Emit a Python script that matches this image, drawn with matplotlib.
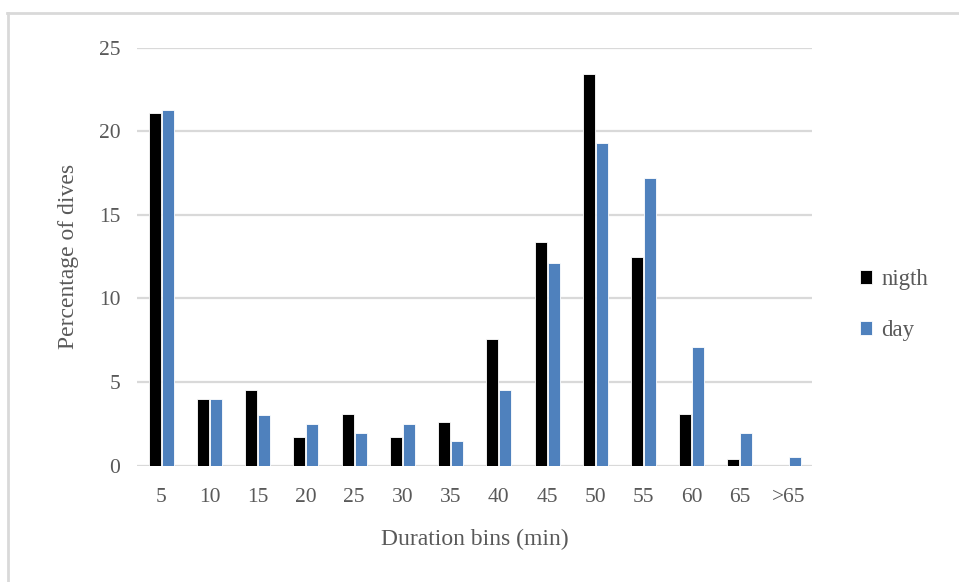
import matplotlib
matplotlib.use("Agg")
import matplotlib.pyplot as plt
from matplotlib.lines import Line2D
import numpy as np

plt.rcParams['font.family'] = ['Liberation Serif', 'DejaVu Serif']

# 데이터
bins = ['5', '10', '15', '20', '25', '30', '35', '40', '45', '50', '55', '60', '65', '>65']
night = [21.1, 4.0, 4.5, 1.7, 3.1, 1.7, 2.6, 7.6, 13.4, 23.4, 12.5, 3.1, 0.4, 0.0]
day = [21.3, 4.0, 3.0, 2.5, 1.95, 2.5, 1.5, 4.55, 12.15, 19.3, 17.2, 7.1, 1.95, 0.5]

fig = plt.figure(figsize=(9.59, 5.82), dpi=100)
ax = fig.add_axes([0.143, 0.2, 0.704, 0.718])

x = np.arange(len(bins))
w = 0.25
ax.bar(x - w / 2 - 0.01, night, w, color='black', edgecolor='white', linewidth=0.6, label='nigth', zorder=3)
ax.bar(x + w / 2 + 0.01, day, w, color='#4F81BD', edgecolor='white', linewidth=0.6, label='day', zorder=3)

ax.set_xlim(-0.5, len(bins) - 0.5)
ax.set_ylim(0, 25)
ax.set_yticks([0, 5, 10, 15, 20, 25])
ax.set_xticks(x)
ax.set_xticklabels(bins)
ax.grid(True, axis='y', color='#d9d9d9', linewidth=1.6, zorder=0)
for s in ax.spines.values():
    s.set_visible(False)
ax.tick_params(length=0, labelsize=15.5, labelcolor='#595959')
ax.tick_params(axis='x', pad=16)
ax.tick_params(axis='y', pad=12)

ax.set_xlabel('Duration bins (min)', fontsize=17, color='#595959', labelpad=16)
ax.set_ylabel('Percentage of dives', fontsize=17, color='#595959', labelpad=14)

ax.legend(loc='center left', bbox_to_anchor=(1.07, 0.384), frameon=False, fontsize=16.5,
          labelcolor='#595959', handlelength=0.55, handleheight=0.55, labelspacing=1.3,
          handletextpad=0.4, borderpad=0, borderaxespad=0)

# 테두리
fig.add_artist(Line2D([7 / 959, 1.0], [1 - 13 / 582, 1 - 13 / 582], color='#d9d9d9', linewidth=2))
fig.add_artist(Line2D([8 / 959, 8 / 959], [0, 1 - 13 / 582], color='#d9d9d9', linewidth=2))

fig.savefig('out.png', dpi=100)
